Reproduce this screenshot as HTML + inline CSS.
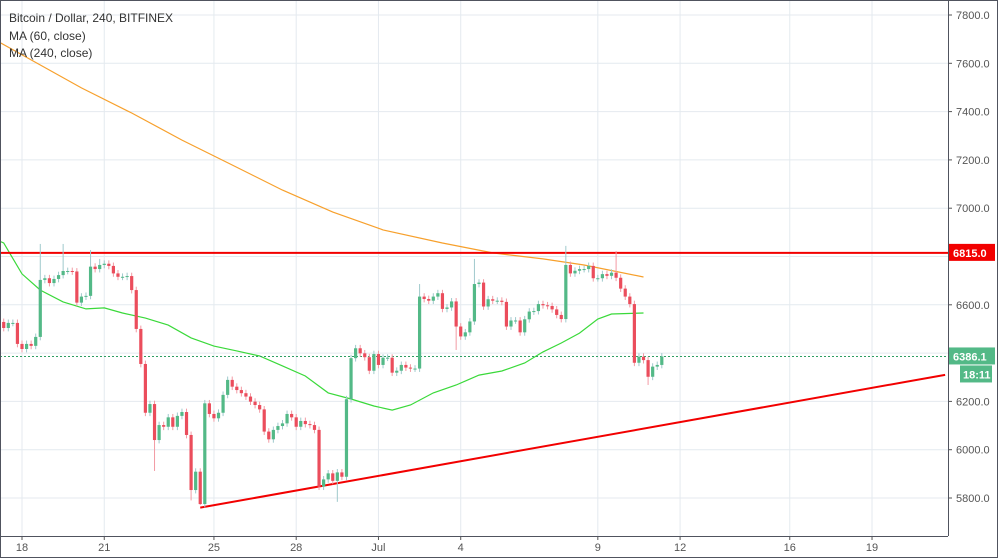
<!DOCTYPE html>
<html><head><meta charset="utf-8">
<style>
html,body{margin:0;padding:0;background:#fff;}
svg{display:block;font-family:"Liberation Sans",Arial,sans-serif;}
</style></head>
<body>
<svg id="chart" width="998" height="558" viewBox="0 0 998 558" xmlns="http://www.w3.org/2000/svg">
<rect x="0" y="0" width="998" height="558" fill="#fff"/>
<g id="grid"></g>
<g id="lines"></g>
<g id="candles"></g>
<g id="axes"></g>
<g font-size="12" fill="#333">
<text x="9" y="22">Bitcoin / Dollar, 240, BITFINEX</text>
<text x="9" y="40">MA (60, close)</text>
<text x="9" y="57">MA (240, close)</text>
</g>
</svg>
<script>
const priceTicks=[5800,6000,6200,6400,6600,6800,7000,7200,7400,7600,7800];
const dateLabels=["18","21","25","28","Jul","4","9","12","16","19"];
const dateIdx=[0,18,42,60,78,96,126,144,168,186];
const firstOpen=6529;
const closes=[6504,6525,6525,6438,6417,6438,6430,6467,6703,6710,
6690,6707,6723,6740,6740,6738,6609,6634,6637,6758,
6748,6765,6770,6761,6730,6716,6716,6719,6661,6500,
6355,6153,6189,6040,6102,6095,6134,6095,6140,6156,
6061,5833,5909,5775,6192,6148,6130,6153,6227,6289,
6261,6247,6234,6220,6199,6185,6167,6075,6043,6082,
6098,6109,6148,6134,6095,6119,6106,6102,6082,5847,
5877,5902,5871,5906,5888,6209,6379,6420,6399,6383,
6327,6396,6351,6381,6381,6319,6327,6351,6340,6336,
6336,6634,6624,6617,6634,6648,6583,6589,6614,6510,
6469,6486,6531,6686,6692,6593,6623,6617,6617,6612,
6510,6535,6535,6486,6540,6572,6574,6603,6598,6595,
6581,6558,6541,6765,6730,6741,6748,6748,6761,6710,
6710,6727,6720,6733,6712,6667,6634,6603,6360,6385,
6371,6302,6344,6351,6386];
const highOverride={8:6852,13:6852,19:6827,21:6790,103:6790,123:6844,134:6823,91:6686};
const lowOverride={43:5771,33:5912,73:5784,141:6268,99:6413,41:5790};
const ma60Idx=[-5,0,4,8,13,18,22,26,31,36,41,46,51,56,61,66,71,76,81,85,89,94,99,104,109,114,118,122,126,130,133,140];
const ma60Val=[6897,6856,6728,6661,6612,6583,6587,6566,6545,6516,6463,6429,6409,6388,6347,6305,6235,6210,6181,6164,6185,6235,6268,6309,6326,6359,6405,6442,6483,6541,6562,6566];
const ma240Idx=[-5,6,17,28,39,50,61,72,83,96,107,118,127,140];
const ma240Val=[7730,7614,7498,7394,7282,7179,7075,6984,6910,6856,6815,6790,6765,6715];
const resistance=6815;
const lastPrice=6386.1;
const trendIdx=[39,202];
const trendVal=[5760,6310];

const NS="http://www.w3.org/2000/svg";
const X0=22,DX=4.57,Y0=15,KY=0.2415,PLOT_R=948,PLOT_B=536;
function xs(i){return X0+DX*i;}
function ys(p){return Y0+(7800-p)*KY;}
function mk(tag,attrs,parent){const e=document.createElementNS(NS,tag);for(const k in attrs)e.setAttribute(k,attrs[k]);parent.appendChild(e);return e;}
const grid=document.getElementById('grid'),lines=document.getElementById('lines'),cg=document.getElementById('candles'),ax=document.getElementById('axes');

priceTicks.forEach(p=>{
 const l=mk('line',{x1:0,x2:PLOT_R,y1:ys(p),y2:ys(p),stroke:'#e4eaef','stroke-width':1},grid);
 
 
 const t=mk('text',{x:956,y:ys(p)+4,'font-size':11,fill:'#555'},ax);
 t.textContent=p.toFixed(1);
 
 
 const tk=mk('line',{x1:PLOT_R,x2:PLOT_R+4,y1:ys(p),y2:ys(p),stroke:'#555'},ax);
 
 
});
dateIdx.forEach((d,k)=>{
 const x=xs(d);
 const l=mk('line',{x1:x,x2:x,y1:0,y2:PLOT_B,stroke:'#e4eaef','stroke-width':1},grid);
 
 
 const t=mk('text',{x:x,y:551,'font-size':11,fill:'#555','text-anchor':'middle'},ax);
 t.textContent=dateLabels[k];
 
 
 const tk=mk('line',{x1:x,x2:x,y1:PLOT_B,y2:PLOT_B+4,stroke:'#555'},ax);
 
 
});
// axis borders
let a1=mk('line',{x1:PLOT_R+0.5,x2:PLOT_R+0.5,y1:0,y2:PLOT_B,stroke:'#50535e'},ax);


let a2=mk('line',{x1:0,x2:PLOT_R,y1:PLOT_B+0.5,y2:PLOT_B+0.5,stroke:'#50535e'},ax);


let a3=mk('rect',{x:0.5,y:0.5,width:997,height:557,fill:'none',stroke:'#50535e'},ax);



function poly(idx,val,color,name){
 const pts=idx.map((i,k)=>xs(i-4).toFixed(1)+','+ys(val[k]).toFixed(1)).join(' ');
 const pl=mk('polyline',{points:pts,fill:'none',stroke:color,'stroke-width':1.2},lines);
 
 
}
poly(ma240Idx,ma240Val,'#f7a02c','ma240-line');
poly(ma60Idx,ma60Val,'#3ad93a','ma60-line');

// resistance
let r=mk('line',{x1:0,x2:PLOT_R,y1:ys(resistance),y2:ys(resistance),stroke:'#f20000','stroke-width':2},lines);


// trend
let tr=mk('line',{x1:xs(trendIdx[0]),y1:ys(trendVal[0]),x2:Math.min(xs(trendIdx[1]),PLOT_R),y2:ys(trendVal[1]),stroke:'#f20000','stroke-width':2},lines);


// last price
let lp=mk('line',{x1:0,x2:PLOT_R,y1:ys(lastPrice),y2:ys(lastPrice),stroke:'#2f9e63','stroke-width':1,'stroke-dasharray':'2,2'},lines);



// candles
let prev=firstOpen;
closes.forEach((c,k)=>{
 const o=prev;prev=c;
 const up=c>=o;
 const hi=highOverride[k]!==undefined?highOverride[k]:Math.max(o,c)+14;
 const lo=lowOverride[k]!==undefined?lowOverride[k]:Math.min(o,c)-14;
 const x=xs(k-4);
 const w=mk('line',{x1:x,x2:x,y1:ys(hi),y2:ys(lo),stroke:up?'#9fc9cc':'#f29aa4','stroke-width':1},cg);
 
 
 const top=ys(Math.max(o,c)),bot=ys(Math.min(o,c));
 const b=mk('rect',{x:x-1.6,y:top,width:3.2,height:Math.max(1,bot-top),fill:up?'#53b987':'#eb4d5c'},cg);
 
 
});

// price labels
function tag(p,text,bg,name,dy){
 const y=ys(p)+(dy||0);
 const g=mk('g',{},ax);
 
 
 mk('rect',{x:949,y:y-9,width:46,height:17,fill:bg},g);
 const t=mk('text',{x:953,y:y+4,'font-size':11,'font-weight':'bold',fill:'#fff'},g);
 t.textContent=text;
}
tag(resistance,resistance.toFixed(1),'#f20000','resistance-price-label');
tag(lastPrice,lastPrice.toFixed(1),'#53b987','last-price-label');
const cd=mk('g',{},ax);


mk('rect',{x:960,y:ys(lastPrice)+9,width:32,height:17,fill:'#53b987'},cd);
const ct=mk('text',{x:963,y:ys(lastPrice)+22,'font-size':11,'font-weight':'bold',fill:'#fff'},cd);
ct.textContent='18:11';
</script>
</body></html>
